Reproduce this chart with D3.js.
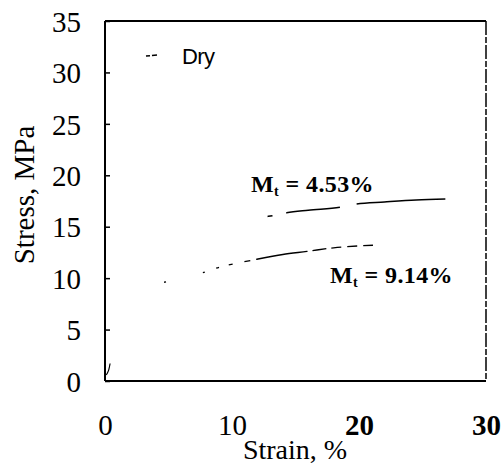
<!DOCTYPE html>
<html><head><meta charset="utf-8">
<script src="https://cdn.jsdelivr.net/npm/d3@7"></script>
<style>body{margin:0;background:#fff}</style>
</head><body>
<svg id="c" width="503" height="465"></svg>
<script>
// Data
const xTicks = [0, 10, 20, 30];
const yTicks = [0, 5, 10, 15, 20, 25, 30, 35];
const xBoldTicks = [20, 30];
const seriesNames = ["Dry", "Mt = 4.53%", "Mt = 9.14%"];
const dryStrain = [0.1, 0.2, 0.3, 0.4];
const dryStress = [0.6, 0.8, 1.1, 1.7];
const m453Strain = [12.8, 13.3, 14.3, 16.0, 18.5, 19.8, 22.0, 24.5, 26.8];
const m453Stress = [16.0, 16.1, 16.35, 16.6, 16.9, 17.2, 17.4, 17.6, 17.7];
const m914Strain = [4.65, 7.9, 9.1, 10.6, 11.8, 14.0, 15.9, 18.0, 21.1];
const m914Stress = [9.6, 10.6, 11.1, 11.5, 11.8, 12.3, 12.6, 12.95, 13.2];

const svg = d3.select("#c");
const x = d3.scaleLinear().domain([0, 30]).range([105, 486]);
const y = d3.scaleLinear().domain([0, 35]).range([381, 21]);
const serif = "'Liberation Serif', 'Times New Roman', serif";

// frame
const g = svg.append("g");
g.append("line").attr("x1", x(0)).attr("x2", x(0)).attr("y1", y(35)).attr("y2", y(0))
  .attr("stroke", "#000").attr("stroke-width", 2);
g.append("line").attr("x1", x(0)).attr("x2", x(30)).attr("y1", y(0)).attr("y2", y(0))
  .attr("stroke", "#000").attr("stroke-width", 2);
g.append("line").attr("x1", x(0)).attr("x2", x(30)).attr("y1", y(35)).attr("y2", y(35))
  .attr("stroke", "#000").attr("stroke-width", 2);
g.append("line").attr("x1", x(30)).attr("x2", x(30)).attr("y1", y(35)).attr("y2", y(0))
  .attr("stroke", "#000").attr("stroke-width", 1.5).attr("stroke-dasharray", "14,2,6,2");

// y axis (ticks inward)
const yAxis = d3.axisLeft(y).tickValues(yTicks).tickSize(-5).tickPadding(24);
const ya = svg.append("g").attr("transform", `translate(${x(0)},0)`).call(yAxis);
ya.select(".domain").remove();
ya.selectAll(".tick line").attr("stroke", "#000").attr("stroke-width", 1.5);
ya.selectAll(".tick text").attr("font-family", serif).attr("font-size", 29).attr("fill", "#000")
  .attr("dy", "0.35em");

// x axis (labels only)
const xAxis = d3.axisBottom(x).tickValues(xTicks).tickSize(0).tickPadding(33);
const xa = svg.append("g").attr("transform", `translate(0,${y(0)})`).call(xAxis);
xa.select(".domain").remove();
xa.selectAll(".tick text").attr("font-family", serif).attr("font-size", 29).attr("fill", "#000")
  .attr("font-weight", d => xBoldTicks.includes(d) ? "bold" : "normal");

// axis titles
svg.append("text").attr("x", 295).attr("y", 459).attr("text-anchor", "middle")
  .attr("font-family", serif).attr("font-size", 28).text("Strain, %");
svg.append("text").attr("transform", "translate(34,195) rotate(-90)").attr("text-anchor", "middle")
  .attr("font-family", serif).attr("font-size", 29).text("Stress, MPa");

// curves
const line = d3.line().x(d => x(d[0])).y(d => y(d[1])).curve(d3.curveMonotoneX);
const dry = dryStrain.map((v, i) => [v, dryStress[i]]);
const m453 = m453Strain.map((v, i) => [v, m453Stress[i]]);
const m914 = m914Strain.map((v, i) => [v, m914Stress[i]]);
svg.append("path").datum(dry).attr("d", line).attr("fill", "none").attr("stroke", "#000").attr("stroke-width", 1.2);
svg.append("path").datum(m453).attr("d", line).attr("fill", "none").attr("stroke", "#000").attr("stroke-width", 1.5)
  .attr("stroke-dasharray", "5,14,54,17,200");
svg.append("path").datum(m914).attr("d", line).attr("fill", "none").attr("stroke", "#000").attr("stroke-width", 1.3)
  .attr("stroke-dasharray", "2,38,2,12,3,10,4,12,6,6,52,5,14,5,10,6,10,6,10");

// legend
svg.append("line").attr("x1", 146).attr("x2", 157).attr("y1", 56).attr("y2", 55)
  .attr("stroke", "#000").attr("stroke-width", 1.5).attr("stroke-dasharray", "4,2,6");
svg.append("text").attr("x", 182).attr("y", 64).attr("font-family", "'Liberation Sans', Arial, sans-serif")
  .attr("font-size", 22).attr("letter-spacing", -0.6).text(seriesNames[0]);

// curve labels
function mlabel(xp, yp, val) {
  const t = svg.append("text").attr("x", xp).attr("y", yp).attr("font-family", serif)
    .attr("font-weight", "bold").attr("font-size", 24).attr("letter-spacing", 0.4);
  t.append("tspan").text("M");
  t.append("tspan").attr("font-size", 14).attr("dy", 4).text("t");
  t.append("tspan").attr("dy", -4).text(" = " + val);
}
mlabel(251, 192, seriesNames[1].split("= ")[1]);
mlabel(330, 283, seriesNames[2].split("= ")[1]);
</script>
</body></html>
